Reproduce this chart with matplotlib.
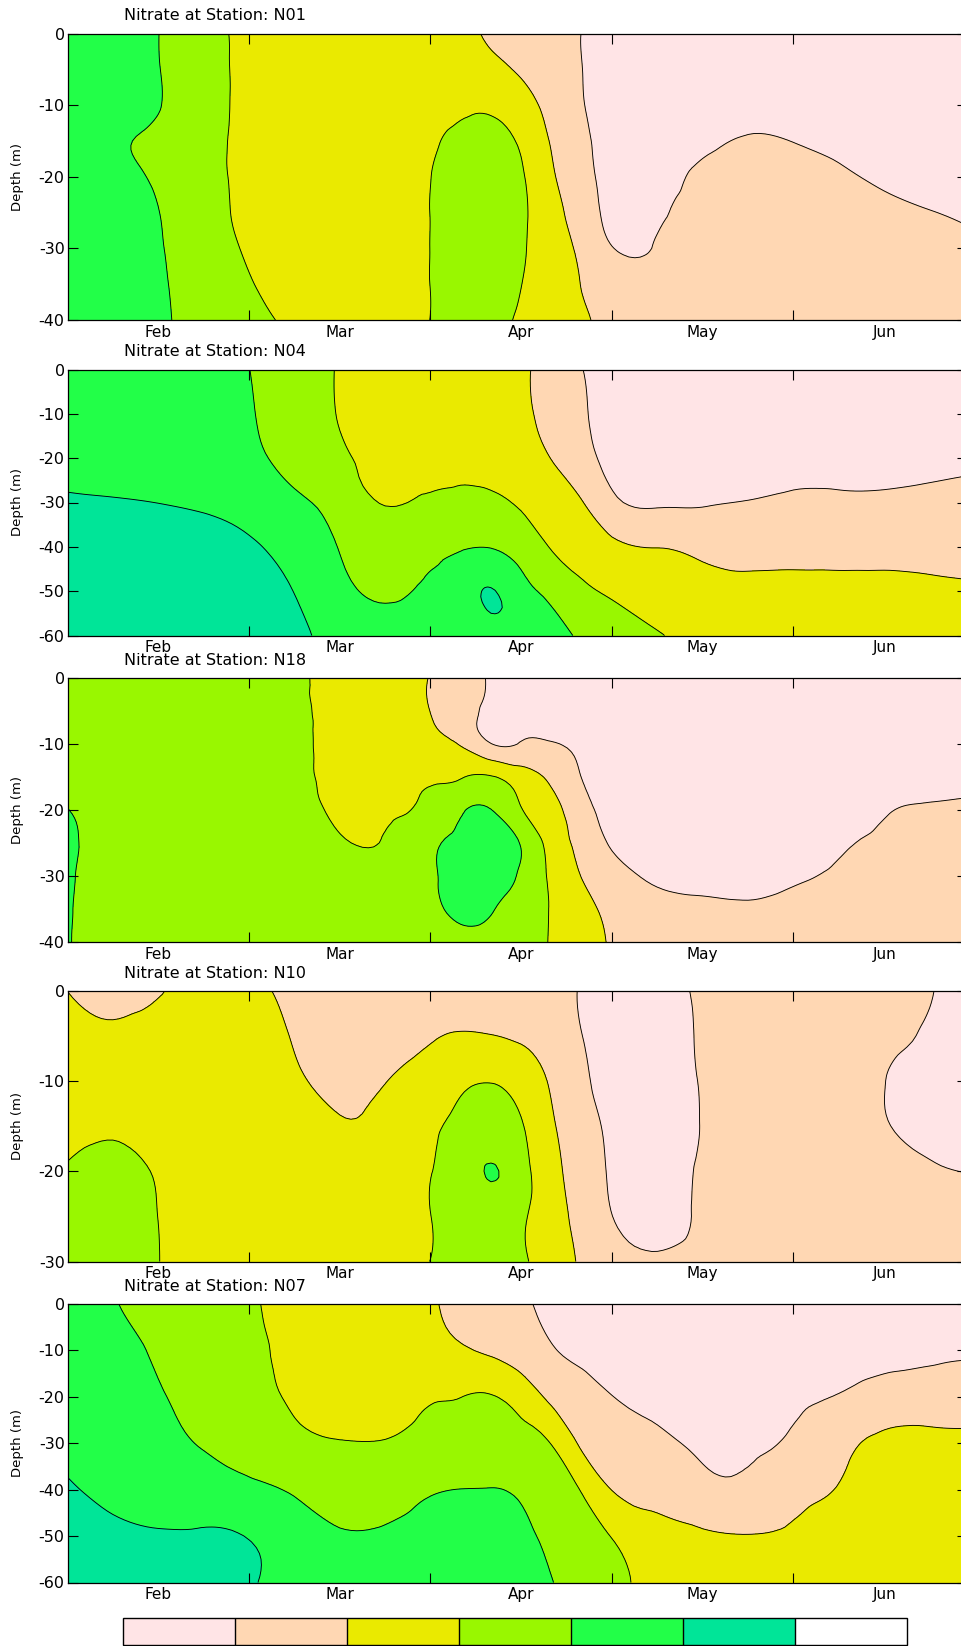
import numpy as np
import matplotlib
matplotlib.use("Agg")
import matplotlib.pyplot as plt
import matplotlib.tri as mtri
from matplotlib.colors import ListedColormap, BoundaryNorm
from matplotlib.cm import ScalarMappable

plt.rcParams['axes.unicode_minus'] = False
plt.rcParams['font.family'] = ['DejaVu Sans']

# ---------------- data ----------------
# sampling days since 1 Feb (30-day months)
days = [0, 7.5, 15, 22.5, 30, 37.5, 45, 52.5, 60, 65, 70, 75, 80, 85, 90,
        97.5, 105, 112.5, 120, 127.5, 135, 142.5, 150]
month_labels = ["Feb", "Mar", "Apr", "May", "Jun"]
month_starts = [0, 30, 60, 90, 120, 150]
nitrate_levels = [0, 1, 2, 3, 4, 5, 6, 7]
level_colors = ["#FFE4E6", "#FFD7B3", "#EAEA00", "#99F700", "#22FF48", "#00E598", "#FFFFFF"]

n01_depth = [0, -5, -10, -15, -20, -25, -30, -35, -40]
n01_nitrate = [
    [4.5, 4.5, 4.01, 3.35, 2.77, 2.5, 2.5, 2.5, 2.5, 2.21, 1.92, 1.68, 1.33, 0.99, 0.65, 0.5, 0.5, 0.5, 0.5, 0.5, 0.5, 0.5, 0.5],
    [4.5, 4.5, 4.03, 3.37, 2.77, 2.5, 2.5, 2.5, 2.5, 2.45, 2.19, 1.91, 1.45, 1.01, 0.66, 0.5, 0.5, 0.5, 0.5, 0.5, 0.5, 0.5, 0.5],
    [4.5, 4.5, 4.05, 3.37, 2.77, 2.5, 2.5, 2.5, 2.63, 2.85, 2.85, 2.37, 1.70, 1.05, 0.69, 0.5, 0.5, 0.69, 0.63, 0.5, 0.5, 0.5, 0.5],
    [4.5, 4.15, 3.77, 3.26, 2.77, 2.5, 2.5, 2.5, 2.86, 3.2, 3.23, 2.87, 1.92, 1.16, 0.73, 0.5, 0.78, 1.08, 0.98, 0.77, 0.53, 0.5, 0.5],
    [4.5, 4.23, 3.89, 3.31, 2.77, 2.5, 2.5, 2.5, 2.99, 3.35, 3.4, 3.08, 2.15, 1.26, 0.77, 0.7, 1.2, 1.45, 1.42, 1.14, 0.86, 0.67, 0.5],
    [4.5, 4.5, 4.02, 3.37, 2.78, 2.5, 2.5, 2.51, 3.01, 3.35, 3.45, 3.13, 2.4, 1.45, 0.83, 0.88, 1.32, 1.5, 1.5, 1.42, 1.22, 1.03, 0.83],
    [4.5, 4.5, 4.08, 3.47, 2.88, 2.5, 2.5, 2.51, 3.01, 3.35, 3.43, 3.1, 2.49, 1.78, 1.03, 1.08, 1.5, 1.5, 1.5, 1.5, 1.5, 1.39, 1.2],
    [4.5, 4.5, 4.12, 3.6, 3.07, 2.58, 2.5, 2.51, 3.01, 3.35, 3.34, 3.01, 2.49, 1.98, 1.64, 1.5, 1.5, 1.5, 1.5, 1.5, 1.5, 1.5, 1.5],
    [4.5, 4.5, 4.14, 3.69, 3.26, 2.81, 2.5, 2.51, 3.01, 3.33, 3.23, 2.89, 2.51, 2.12, 1.77, 1.5, 1.5, 1.5, 1.5, 1.5, 1.5, 1.5, 1.5],
]

n04_depth = [0, -10, -20, -30, -40, -50, -60]
n04_nitrate = [
    [4.5, 4.5, 4.5, 4.5, 4.01, 3.48, 2.93, 2.5, 2.5, 2.5, 2.45, 2.13, 1.62, 1.02, 0.67, 0.5, 0.5, 0.5, 0.5, 0.5, 0.5, 0.5, 0.5],
    [4.5, 4.5, 4.5, 4.5, 4.08, 3.53, 2.95, 2.5, 2.5, 2.5, 2.5, 2.17, 1.71, 1.1, 0.73, 0.5, 0.5, 0.5, 0.5, 0.5, 0.5, 0.5, 0.5],
    [4.64, 4.59, 4.52, 4.5, 4.2, 3.75, 3.16, 2.72, 2.6, 2.76, 2.71, 2.4, 1.98, 1.3, 0.83, 0.5, 0.5, 0.52, 0.67, 0.66, 0.66, 0.73, 0.81],
    [5.13, 5.07, 4.99, 4.88, 4.62, 4.13, 3.62, 2.96, 3.14, 3.23, 3.15, 2.87, 2.45, 2.05, 1.2, 0.91, 0.94, 1.03, 1.15, 1.15, 1.15, 1.22, 1.3],
    [5.5, 5.5, 5.49, 5.35, 5.11, 4.63, 3.96, 3.5, 3.77, 3.92, 3.97, 3.63, 2.93, 2.58, 2.2, 1.98, 1.73, 1.66, 1.71, 1.7, 1.7, 1.69, 1.67],
    [5.5, 5.5, 5.5, 5.5, 5.44, 4.98, 4.26, 3.87, 4.15, 4.5, 5.05, 4.3, 3.83, 3.2, 2.9, 2.57, 2.36, 2.24, 2.23, 2.22, 2.23, 2.17, 2.1],
    [5.5, 5.5, 5.5, 5.5, 5.5, 5.2, 4.67, 4.36, 4.5, 4.5, 4.55, 4.5, 4.17, 3.85, 3.4, 3.08, 2.55, 2.5, 2.5, 2.5, 2.5, 2.5, 2.5],
]

n18_depth = [0, -5, -10, -15, -20, -25, -30, -35, -40]
n18_nitrate = [
    [3.5, 3.5, 3.5, 3.5, 3.5, 3.21, 2.7, 2.48, 1.96, 1.4, 0.9, 0.58, 0.5, 0.5, 0.5, 0.5, 0.5, 0.5, 0.5, 0.5, 0.5, 0.5, 0.5],
    [3.5, 3.5, 3.5, 3.5, 3.5, 3.23, 2.72, 2.5, 1.99, 1.36, 0.85, 0.55, 0.5, 0.5, 0.5, 0.5, 0.5, 0.5, 0.5, 0.5, 0.5, 0.5, 0.5],
    [3.5, 3.5, 3.5, 3.5, 3.5, 3.22, 2.71, 2.5, 2.15, 1.93, 1.02, 1.06, 1.05, 0.81, 0.6, 0.5, 0.5, 0.5, 0.5, 0.5, 0.5, 0.5, 0.5],
    [3.65, 3.5, 3.5, 3.5, 3.5, 3.2, 2.75, 2.53, 2.79, 2.94, 3.06, 2.5, 1.74, 0.99, 0.71, 0.5, 0.5, 0.5, 0.5, 0.5, 0.6, 0.72, 0.77],
    [4.02, 3.6, 3.5, 3.5, 3.5, 3.33, 2.85, 2.81, 3.34, 3.92, 4.02, 3.05, 2.32, 1.33, 0.77, 0.5, 0.5, 0.5, 0.5, 0.59, 0.93, 1.1, 1.15],
    [4.16, 3.65, 3.5, 3.5, 3.5, 3.5, 3.12, 3.07, 3.84, 4.17, 4.3, 3.94, 2.62, 1.69, 0.9, 0.51, 0.5, 0.5, 0.53, 0.87, 1.19, 1.44, 1.5],
    [4.12, 3.6, 3.5, 3.5, 3.5, 3.5, 3.5, 3.45, 3.9, 4.23, 4.29, 3.88, 2.8, 1.98, 1.4, 0.87, 0.79, 0.74, 0.88, 1.14, 1.4, 1.5, 1.5],
    [4.08, 3.57, 3.5, 3.5, 3.5, 3.5, 3.5, 3.5, 3.81, 4.16, 4.05, 3.6, 2.93, 2.24, 1.79, 1.24, 1.13, 1.1, 1.23, 1.4, 1.5, 1.5, 1.5],
    [4.05, 3.55, 3.5, 3.5, 3.5, 3.5, 3.5, 3.5, 3.6, 3.8, 3.69, 3.4, 2.94, 2.4, 1.92, 1.5, 1.5, 1.5, 1.5, 1.5, 1.5, 1.5, 1.5],
]

n10_depth = [0, -5, -10, -15, -20, -25, -30]
n10_nitrate = [
    [1.99, 1.65, 1.9, 2.63, 2.25, 1.78, 1.5, 1.5, 1.5, 1.5, 1.5, 1.5, 1.29, 0.95, 0.62, 0.66, 1.16, 1.5, 1.5, 1.5, 1.5, 1.05, 0.55],
    [2.38, 2.13, 2.3, 2.5, 2.45, 1.93, 1.5, 1.5, 1.9, 2.07, 2.02, 1.89, 1.56, 1.01, 0.67, 0.62, 1.12, 1.5, 1.5, 1.5, 1.26, 0.88, 0.5],
    [2.5, 2.5, 2.5, 2.5, 2.5, 2.16, 1.76, 1.97, 2.52, 2.86, 2.97, 2.6, 1.88, 1.15, 0.76, 0.58, 1.08, 1.5, 1.5, 1.5, 1.02, 0.57, 0.5],
    [2.62, 2.86, 2.65, 2.5, 2.5, 2.5, 2.1, 2.3, 2.88, 3.22, 3.4, 3.06, 2.14, 1.36, 0.83, 0.55, 1.05, 1.5, 1.5, 1.5, 1.08, 0.71, 0.5],
    [3.12, 3.36, 2.88, 2.5, 2.5, 2.5, 2.5, 2.5, 2.98, 3.45, 4.05, 3.35, 2.35, 1.49, 0.9, 0.63, 1.13, 1.5, 1.5, 1.5, 1.5, 1.14, 0.95],
    [3.5, 3.5, 2.99, 2.5, 2.5, 2.5, 2.5, 2.5, 2.99, 3.4, 3.55, 3.15, 2.43, 1.65, 1.01, 0.65, 1.17, 1.5, 1.5, 1.5, 1.5, 1.5, 1.5],
    [3.5, 3.5, 3.02, 2.5, 2.5, 2.5, 2.5, 2.5, 3.01, 3.35, 3.45, 3.15, 2.5, 1.87, 1.28, 1.15, 1.4, 1.5, 1.5, 1.5, 1.5, 1.5, 1.5],
]

n07_depth = [0, -10, -20, -30, -40, -50, -60]
n07_nitrate = [
    [4.5, 4.07, 3.58, 3.5, 3.15, 2.65, 2.5, 2.5, 2.09, 1.79, 1.5, 1.14, 0.83, 0.53, 0.5, 0.5, 0.5, 0.5, 0.5, 0.5, 0.5, 0.5, 0.5],
    [4.5, 4.35, 3.86, 3.5, 3.23, 2.73, 2.5, 2.5, 2.35, 2.1, 1.88, 1.56, 1.06, 0.8, 0.57, 0.5, 0.5, 0.5, 0.5, 0.53, 0.67, 0.8, 0.85],
    [4.5, 4.5, 4.09, 3.71, 3.33, 2.88, 2.53, 2.53, 2.92, 2.99, 3.05, 2.58, 1.78, 1.31, 1.02, 0.76, 0.5, 0.5, 0.81, 1.05, 1.41, 1.5, 1.62],
    [4.7, 4.5, 4.26, 3.95, 3.7, 3.22, 3.03, 3.05, 3.35, 3.5, 3.5, 3.27, 2.97, 1.83, 1.5, 1.23, 0.85, 0.82, 1.14, 1.72, 2.19, 2.22, 2.17],
    [5.13, 4.74, 4.57, 4.43, 4.15, 3.91, 3.5, 3.56, 3.92, 4.01, 4.02, 3.86, 3.49, 2.93, 1.98, 1.73, 1.3, 1.2, 1.65, 2.05, 2.5, 2.5, 2.5],
    [5.5, 5.23, 5.09, 5.09, 4.96, 4.45, 4.09, 4.13, 4.35, 4.5, 4.5, 4.17, 3.81, 3.38, 2.97, 2.33, 2.1, 2.03, 2.15, 2.44, 2.5, 2.5, 2.5],
    [5.5, 5.5, 5.5, 5.5, 5.09, 4.6, 4.5, 4.5, 4.5, 4.5, 4.5, 4.36, 4.02, 3.63, 3.2, 2.7, 2.5, 2.5, 2.5, 2.5, 2.5, 2.5, 2.5],
]

stations = [
    ("N01", n01_depth, n01_nitrate),
    ("N04", n04_depth, n04_nitrate),
    ("N18", n18_depth, n18_nitrate),
    ("N10", n10_depth, n10_nitrate),
    ("N07", n07_depth, n07_nitrate),
]

# ---------------- layout (pixels of the 962x1646 canvas) ----------------
W, H = 962, 1646
LEFT, RIGHT = 67.5, 967.0
panel_px = [(33.5, 320.0), (369.5, 635.5), (678.0, 942.0), (990.5, 1261.5), (1304.0, 1582.5)]
x_right_day = (RIGHT - LEFT) / 181.5 * 30.0

cmap = ListedColormap(level_colors)
norm = BoundaryNorm(nitrate_levels, cmap.N)

fig = plt.figure(figsize=(W / 100, H / 100), dpi=100)

for (name, depth, values), (top, bot) in zip(stations, panel_px):
    ax = fig.add_axes([LEFT / W, 1 - bot / H, (RIGHT - LEFT) / W, (bot - top) / H])
    X, Y = np.meshgrid(np.asarray(days, float), np.asarray(depth, float))
    Z = np.asarray(values, float)
    ny, nx = Z.shape
    tris = []
    for i in range(ny - 1):
        for j in range(nx - 1):
            a = i * nx + j
            b, c = a + 1, a + nx
            d = c + 1
            tris.append([a, b, d])
            tris.append([a, d, c])
    tri = mtri.Triangulation(X.ravel(), Y.ravel(), np.array(tris))
    refiner = mtri.UniformTriRefiner(tri)
    tri_f, z_f = refiner.refine_field(Z.ravel(), subdiv=3)
    ax.tricontourf(tri_f, z_f, levels=nitrate_levels, cmap=cmap, norm=norm)
    ax.tricontour(tri_f, z_f, levels=nitrate_levels[1:-1], colors="k", linewidths=0.65)

    ax.set_xlim(0, x_right_day)
    ax.set_ylim(min(depth), 0)
    ax.set_xticks(month_starts[1:-1])
    ax.set_xticks([(a + b) / 2 for a, b in zip(month_starts[:-1], month_starts[1:])], minor=True)
    ax.set_xticklabels(month_labels, minor=True)
    ax.set_yticks(np.arange(min(depth), 1, 10))
    ax.tick_params(axis="x", which="major", direction="in", length=7, width=0.8,
                   top=True, bottom=True, labelbottom=False)
    ax.tick_params(axis="x", which="minor", length=0, labelsize=11, pad=3.5)
    ax.tick_params(axis="y", which="major", direction="in", length=7, width=0.8,
                   left=True, right=True, labelsize=11.5, pad=2)
    for s in ax.spines.values():
        s.set_linewidth(0.9)
    fig.text(215 / W, 1 - (top - 13) / H, f"Nitrate at Station: {name}",
             ha="center", va="baseline", fontsize=11.5)
    fig.text(17 / W, 1 - (top + bot) / 2 / H, "Depth (m)", rotation=90,
             ha="center", va="center", fontsize=9.5)

cax = fig.add_axes([123 / W, 1 - 1645 / H, (907 - 123) / W, 27 / H])
cb = fig.colorbar(ScalarMappable(norm=norm, cmap=cmap), cax=cax,
                  orientation="horizontal", drawedges=True)
cb.set_ticks([])
cb.outline.set_linewidth(1.0)
cb.dividers.set_linewidth(1.0)

fig.savefig("out.png", dpi=100)
